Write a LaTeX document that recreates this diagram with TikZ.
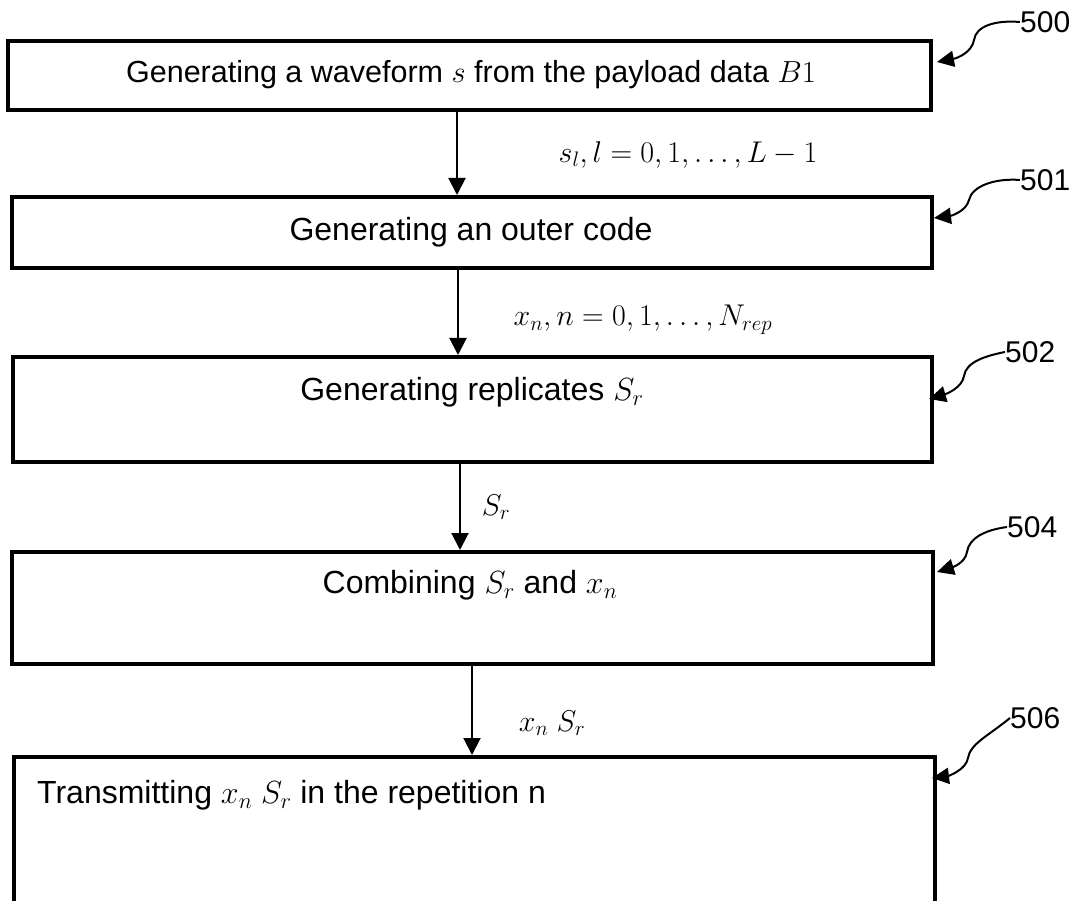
\RequirePackage{fix-cm}
\documentclass[tikz,border=0pt]{standalone}
\usepackage{fontspec}
\setmainfont{Liberation Sans}
\usetikzlibrary{arrows.meta}
\begin{document}
\begin{tikzpicture}[x=1pt,y=-1pt,
  box/.style={draw=black, line width=4pt, inner sep=0pt},
  txt/.style={font=\fontsize{32}{38}\selectfont, inner sep=0pt},
  elab/.style={font=\fontsize{30}{36}\selectfont, inner sep=0pt},
  reflab/.style={font=\fontsize{30}{36}\selectfont, inner sep=0pt},
  flow/.style={line width=2pt, -{Triangle[length=17pt,width=17pt]}},
  leader/.style={line width=2pt, -{Triangle[length=17pt,width=16pt]}}]
\clip (0,0) rectangle (1080,901);
\fill[white] (0,0) rectangle (1080,901);
% boxes
\node[box, minimum width=923pt, minimum height=69pt] (b500) at (469.5,75.5) {};
\node[box, minimum width=920pt, minimum height=71pt] (b501) at (472,232.5) {};
\node[box, minimum width=919pt, minimum height=105pt] (b502) at (472.5,409.5) {};
\node[box, minimum width=921pt, minimum height=112pt] (b504) at (472.5,608) {};
\node[box, minimum width=921pt, minimum height=300pt] (b506) at (474.5,907) {};
% box texts
\node[txt, font=\fontsize{30.5}{36}\selectfont] (t500) at (471,75) {Generating a waveform $s$ from the payload data $B1$};
\node[txt] (t501) at (471,232) {Generating an outer code};
\node[txt] (t502) at (472,392) {Generating replicates $S_r$};
\node[txt] (t504) at (470,585) {Combining $S_r$ and $x_n$};
\node[txt, anchor=west] (t506) at (37,795) {Transmitting $x_n\ S_r$ in the repetition n};
% flow arrows
\coordinate (c1) at (457,0);
\coordinate (c2) at (458,0);
\coordinate (c3) at (460,0);
\coordinate (c4) at (472,0);
\draw[flow] (b500.south -| c1) -- (b501.north -| c1);
\draw[flow] (b501.south -| c2) -- (b502.north -| c2);
\draw[flow] (b502.south -| c3) -- (b504.north -| c3);
\draw[flow] (b504.south -| c4) -- (b506.north -| c4);
% edge labels
\node[elab] (e1) at (688,155) {$s_l, l=0,1,\ldots,L-1$};
\node[elab] (e2) at (643,320) {$x_n, n=0,1,\ldots,N_{rep}$};
\node[elab] (e3) at (496,507) {$S_r$};
\node[elab] (e4) at (552,723) {$x_n\ S_r$};
% reference numbers
\node[reflab, anchor=west] (r500) at (1020,22) {500};
\node[reflab, anchor=west] (r501) at (1020,180) {501};
\node[reflab, anchor=west] (r502) at (1005,352) {502};
\node[reflab, anchor=west] (r504) at (1007,527) {504};
\node[reflab, anchor=west] (r506) at (1010,718) {506};
% leaders
\coordinate (p500) at (937,62);
\coordinate (p501) at (934,218);
\coordinate (p502) at (929,399);
\coordinate (p504) at (937,572);
\coordinate (p506) at (932,778);
\draw[leader] (r500.west) .. controls (995,20) and (976,26) .. (974,40) .. controls (972,52) and (958,58) .. (p500);
\draw[leader] (r501.west) .. controls (995,178) and (972,186) .. (969,200) .. controls (966,212) and (950,216) .. (p501);
\draw[leader] (r502.west) .. controls (985,356) and (966,362) .. (964,376) .. controls (962,388) and (946,394) .. (p502);
\draw[leader] (r504.west) .. controls (985,530) and (969,538) .. (967,552) .. controls (965,564) and (950,568) .. (p504);
\draw[leader] (r506.west) .. controls (988,736) and (970,744) .. (968,758) .. controls (966,770) and (948,776) .. (p506);
\end{tikzpicture}
\end{document}
